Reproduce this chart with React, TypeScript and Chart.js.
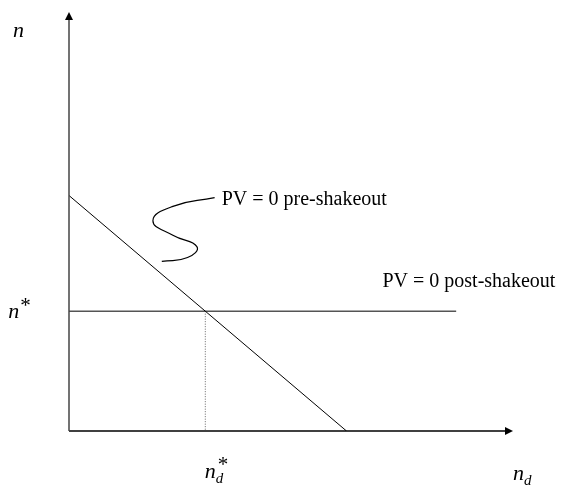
import { useEffect, useRef } from "react";
import { Chart, registerables } from "chart.js";
Chart.register(...registerables);

// axis extents (data units)
const axisMax = 100;
// PV = 0 pre-shakeout (downward sloping line): intercepts
const preX = [0, 62.5];
const preY = [56.2, 0];
// PV = 0 post-shakeout (horizontal)
const nStar = 28.6;
const postEndX = 87.2;
// equilibrium
const ndStar = 30.7;
// squiggle pointer from label to line
const curveX = [32.8, 23.4, 18.9, 23.4, 28.8, 26.7, 20.9];
const curveY = [55.7, 53.6, 50.2, 46.7, 44.0, 41.4, 40.5];

const labelPlugin = {
  id: "labels",
  afterDraw(chart: any) {
    const { ctx, scales } = chart;
    const X = (v: number) => scales.x.getPixelForValue(v);
    const Y = (v: number) => scales.y.getPixelForValue(v);
    ctx.save();
    // arrowheads
    ctx.fillStyle = "#000";
    const ox = X(0), oy = Y(0), ty = Y(axisMax), rx = X(axisMax);
    ctx.beginPath();
    ctx.moveTo(ox, ty);
    ctx.lineTo(ox - 4, ty + 8);
    ctx.lineTo(ox + 4, ty + 8);
    ctx.closePath();
    ctx.fill();
    ctx.beginPath();
    ctx.moveTo(rx, oy);
    ctx.lineTo(rx - 8, oy - 4);
    ctx.lineTo(rx - 8, oy + 4);
    ctx.closePath();
    ctx.fill();

    ctx.textBaseline = "alphabetic";
    ctx.textAlign = "left";
    ctx.font = "20px 'Liberation Serif', 'Times New Roman', serif";
    ctx.fillText("PV = 0 pre-shakeout", X(34.4), Y(54.0));
    ctx.fillText("PV = 0 post-shakeout", X(70.6), Y(34.3));
    const it = "italic 22px 'Liberation Serif', 'Times New Roman', serif";
    const sub = "italic 15px 'Liberation Serif', 'Times New Roman', serif";
    const star = "21px 'Liberation Serif', serif";
    // n
    ctx.font = it;
    ctx.fillText("n", X(-12.6), Y(94));
    // n*
    let x = X(-13.7);
    let y = Y(26.9);
    ctx.fillText("n", x, y);
    x += ctx.measureText("n").width + 1;
    ctx.font = star;
    ctx.fillText("*", x, y - 6);
    // n_d*
    const drawNd = (px: number, py: number, withStar: boolean) => {
      ctx.font = it;
      ctx.fillText("n", px, py);
      const w = ctx.measureText("n").width;
      ctx.font = sub;
      ctx.fillText("d", px + w, py + 5);
      if (withStar) {
        ctx.font = star;
        ctx.fillText("*", px + w + 2, py - 7);
      }
    };
    drawNd(X(30.6), Y(-11.2), true);
    drawNd(X(100), Y(-11.6), false);
    ctx.restore();
  },
};

export default function App() {
  const ref = useRef<HTMLCanvasElement>(null);
  useEffect(() => {
    document.body.style.margin = "0";
    const ctx = ref.current!.getContext("2d")!;
    const pts = (xs: number[], ys: number[]) => xs.map((v, i) => ({ x: v, y: ys[i] }));
    const chart = new Chart(ctx, {
      type: "scatter",
      data: {
        datasets: [
          {
            data: [{ x: 0, y: 0 }, { x: 0, y: axisMax - 1.5 }],
            showLine: true,
            borderColor: "#444",
            borderWidth: 1.5,
            pointRadius: 0,
            clip: false,
          },
          {
            data: [{ x: 0, y: 0 }, { x: axisMax - 1.5, y: 0 }],
            showLine: true,
            borderColor: "#000",
            borderWidth: 1.5,
            pointRadius: 0,
            clip: false,
          },
          {
            data: pts(preX, preY),
            showLine: true,
            borderColor: "#000",
            borderWidth: 1,
            pointRadius: 0,
          },
          {
            data: [{ x: 0, y: nStar }, { x: postEndX, y: nStar }],
            showLine: true,
            borderColor: "#555",
            borderWidth: 1.5,
            pointRadius: 0,
          },
          {
            data: [{ x: ndStar, y: nStar }, { x: ndStar, y: 0 }],
            showLine: true,
            borderColor: "#666",
            borderWidth: 1,
            borderDash: [1, 1.5],
            pointRadius: 0,
          },
          {
            data: pts(curveX, curveY),
            showLine: true,
            borderColor: "#000",
            borderWidth: 1.2,
            tension: 0.5,
            pointRadius: 0,
          },
        ],
      },
      options: {
        animation: false,
        responsive: false,
        maintainAspectRatio: false,
        layout: { padding: { left: 69, right: 74, top: 12, bottom: 61 } },
        plugins: { legend: { display: false }, tooltip: { enabled: false } },
        scales: {
          x: { type: "linear", min: 0, max: axisMax, display: false },
          y: { type: "linear", min: 0, max: axisMax, display: false },
        },
      },
      plugins: [labelPlugin],
    } as any);
    return () => chart.destroy();
  }, []);
  return (
    <div style={{ width: 587, height: 492 }}>
      <canvas ref={ref} width={587} height={492} />
    </div>
  );
}
